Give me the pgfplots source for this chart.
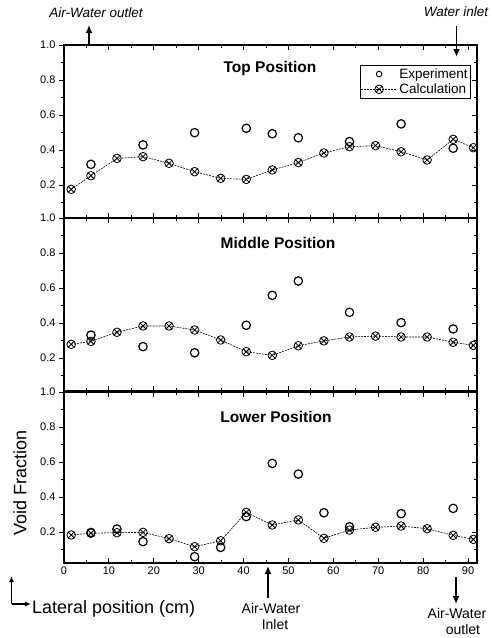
\documentclass[border=0pt]{standalone}
\usepackage{fontspec}
\setmainfont{Liberation Sans}
\usepackage{pgfplots}
\pgfplotsset{compat=1.18}
\usetikzlibrary{arrows.meta}

\pgfplotsset{
 panel/.style={
  width=413pt, scale only axis, xmin=0, xmax=92, ymax=1,
  xtick={0,10,20,30,40,50,60,70,80,90}, minor xtick={5,15,25,35,45,55,65,75,85},
  ytick={0.2,0.4,0.6,0.8,1.0}, minor ytick={0.1,0.3,0.5,0.7,0.9},
  xtick align=inside, ytick align=outside, ytick pos=left,
  major tick length=5pt, minor tick length=3pt,
  /pgf/number format/assume math mode=true,
  yticklabel style={/pgf/number format/fixed, /pgf/number format/fixed zerofill, /pgf/number format/precision=1},
  tick label style={font=\fontsize{11}{13}\selectfont},
  axis line style={line width=1.3pt},
  every tick/.style={black, line width=0.9pt},
  clip=false,
  legend image code/.code={\draw[mark repeat=2,mark phase=2,##1] plot coordinates {(0pt,0pt) (18pt,0pt) (36pt,0pt)};},
 },
 rightticks/.style={
  width=413pt, scale only axis, xmin=0, xmax=92, ymax=1,
  xtick=\empty, ytick={0.2,0.4,0.6,0.8,1.0}, minor ytick={0.1,0.3,0.5,0.7,0.9},
  ytick pos=right, ytick align=inside, yticklabels={},
  major tick length=5pt, minor tick length=3pt,
  axis line style={draw=none},
  every tick/.style={black, line width=0.9pt},
 },
 exp/.style={only marks, mark=o, mark size=4.2pt, mark options={line width=1.2pt}, black},
 calc/.style={black, line width=0.6pt, dash pattern=on 2pt off 1pt, mark=otimes, mark size=4.3pt, mark options={solid, line width=0.8pt}},
}

\begin{document}
\begin{tikzpicture}
\path[use as bounding box] (0pt,0pt) rectangle (492pt,-638pt);

% Top panel
\begin{axis}[panel, at={(64pt,-45pt)}, anchor=north west, height=173pt, ymin=0.0114, xticklabels={},
  legend style={at={(0.9855,0.884)}, anchor=north east, draw=black, line width=0.6pt,
    font=\fontsize{13.5}{15}\selectfont, inner xsep=1pt, inner ysep=1pt, row sep=0pt},
  legend cell align=left]
\addplot[exp, forget plot] coordinates {(6.0,0.318) (17.6,0.429) (29.1,0.499) (40.6,0.524) (46.4,0.493) (52.2,0.470) (63.6,0.448) (75.1,0.549) (86.7,0.41)};
\addlegendimage{exp, mark size=2.8pt, mark options={line width=0.9pt}}
\addlegendentry{Experiment}
\addplot[calc] coordinates {(1.6,0.175) (6.0,0.253) (11.8,0.352) (17.6,0.362) (23.4,0.324) (29.1,0.276) (34.9,0.238) (40.6,0.232) (46.4,0.286) (52.2,0.328) (57.9,0.383) (63.6,0.419) (69.4,0.425) (75.1,0.39) (80.9,0.343) (86.7,0.461) (91.2,0.413)};
\addlegendentry{Calculation}
\end{axis}
\begin{axis}[rightticks, at={(64pt,-45pt)}, anchor=north west, height=173pt, ymin=0.0114]
\end{axis}

% Middle panel
\begin{axis}[panel, at={(64pt,-218pt)}, anchor=north west, height=173pt, ymin=0.0114, xticklabels={}]
\addplot[exp] coordinates {(6.0,0.331) (17.6,0.265) (29.1,0.23) (40.6,0.387) (46.4,0.558) (52.2,0.64) (63.6,0.461) (75.1,0.402) (86.7,0.366)};
\addplot[calc] coordinates {(1.6,0.278) (6.0,0.295) (11.8,0.347) (17.6,0.383) (23.4,0.383) (29.1,0.36) (34.9,0.303) (40.6,0.236) (46.4,0.215) (52.2,0.27) (57.9,0.298) (63.6,0.32) (69.4,0.325) (75.1,0.32) (80.9,0.32) (86.7,0.29) (91.2,0.272)};
\end{axis}
\begin{axis}[rightticks, at={(64pt,-218pt)}, anchor=north west, height=173pt, ymin=0.0114]
\end{axis}

% Lower panel
\begin{axis}[panel, at={(64pt,-392pt)}, anchor=north west, height=171pt, ymin=0.0229]
\addplot[exp] coordinates {(6.0,0.197) (11.8,0.217) (17.6,0.145) (29.1,0.059) (34.9,0.112) (40.6,0.288) (46.4,0.592) (52.2,0.531) (57.9,0.31) (63.6,0.23) (75.1,0.305) (86.7,0.335)};
\addplot[calc] coordinates {(1.6,0.183) (6.0,0.193) (11.8,0.196) (17.6,0.198) (23.4,0.162) (29.1,0.116) (34.9,0.15) (40.6,0.312) (46.4,0.24) (52.2,0.269) (57.9,0.164) (63.6,0.211) (69.4,0.227) (75.1,0.234) (80.9,0.219) (86.7,0.181) (91.2,0.158)};
\end{axis}
\begin{axis}[rightticks, at={(64pt,-392pt)}, anchor=north west, height=171pt, ymin=0.0229]
\end{axis}

% Titles
\node[font=\bfseries\fontsize{15.5}{18}\selectfont] at (270pt,-68pt) {Top Position};
\node[font=\bfseries\fontsize{15.5}{18}\selectfont] at (278pt,-243pt) {Middle Position};
\node[font=\bfseries\fontsize{15.5}{18}\selectfont] at (276pt,-417pt) {Lower Position};

% Axis labels
\node[rotate=90, font=\fontsize{18}{20}\selectfont] at (20pt,-483pt) {Void Fraction};
\node[anchor=base west, inner sep=0pt, font=\fontsize{18}{20}\selectfont] at (32pt,-613pt) {Lateral position (cm)};
\draw[line width=1.2pt, -{Latex[length=6pt,width=5pt]}] (11.5pt,-604pt) -- (11.5pt,-576pt);
\draw[line width=1.2pt, -{Latex[length=6pt,width=5pt]}] (11.5pt,-604pt) -- (31pt,-604pt);

% Top annotations
\node[font=\itshape\fontsize{13.5}{15}\selectfont] at (96pt,-13pt) {Air-Water outlet};
\draw[line width=1.8pt, -{Latex[length=8pt,width=7pt]}] (89pt,-46pt) -- (89pt,-25pt);
\node[font=\itshape\fontsize{13.5}{15}\selectfont] at (456pt,-12pt) {Water inlet};
\draw[line width=1.8pt, -{Latex[length=8pt,width=7pt]}] (456.5pt,-26pt) -- (456.5pt,-57pt);

% Bottom annotations
\draw[line width=1.8pt, -{Latex[length=8pt,width=7pt]}] (268pt,-598pt) -- (268pt,-566pt);
\node[font=\fontsize{14}{16}\selectfont] at (271pt,-608pt) {Air-Water};
\node[font=\fontsize{14}{16}\selectfont] at (275pt,-624pt) {Inlet};
\draw[line width=1.8pt, -{Latex[length=8pt,width=7pt]}] (456pt,-577pt) -- (456pt,-604pt);
\node[font=\fontsize{14}{16}\selectfont] at (457pt,-613pt) {Air-Water};
\node[font=\fontsize{14}{16}\selectfont] at (463pt,-629pt) {outlet};
\end{tikzpicture}
\end{document}
